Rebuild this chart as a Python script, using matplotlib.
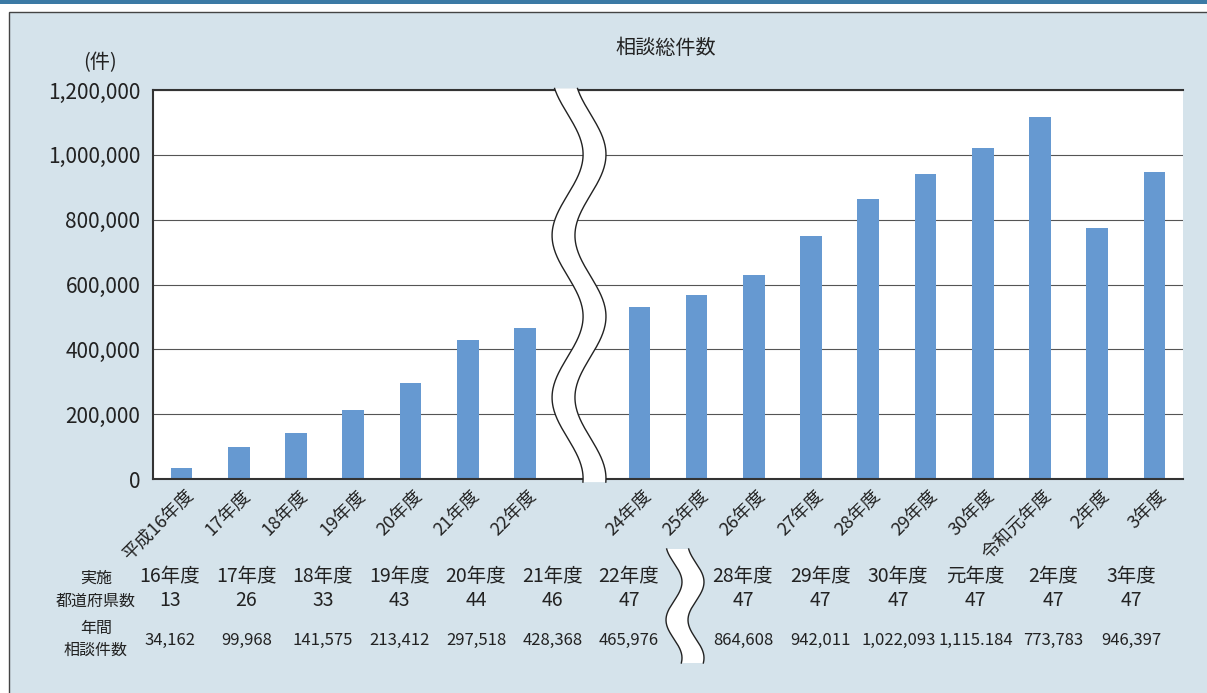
import numpy as np
import matplotlib
matplotlib.use("Agg")
import matplotlib.pyplot as plt
from matplotlib.patches import Rectangle, Polygon
from matplotlib.ticker import FuncFormatter
from matplotlib.transforms import ScaledTranslation, blended_transform_factory

plt.rcParams['font.family'] = ['Noto Sans CJK JP', 'DejaVu Sans']

# chart data
categories = ['平成16年度', '17年度', '18年度', '19年度', '20年度', '21年度', '22年度',
              '24年度', '25年度', '26年度', '27年度', '28年度', '29年度', '30年度',
              '令和元年度', '2年度', '3年度']
counts = [34162, 99968, 141575, 213412, 297518, 428368, 465976,
          531000, 567000, 630000, 749000, 864608, 942011, 1022093,
          1115184, 773783, 946397]

# table under the chart
left_years = ['16年度', '17年度', '18年度', '19年度', '20年度', '21年度', '22年度']
left_prefs = [13, 26, 33, 43, 44, 46, 47]
left_counts = ['34,162', '99,968', '141,575', '213,412', '297,518', '428,368', '465,976']
right_years = ['28年度', '29年度', '30年度', '元年度', '2年度', '3年度']
right_prefs = [47, 47, 47, 47, 47, 47]
right_counts = ['864,608', '942,011', '1,022,093', '1,115.184', '773,783', '946,397']

W, H = 1207, 693
fig = plt.figure(figsize=(W / 100, H / 100), dpi=100)


def fx(px):
    return px / W


def fy(py):
    return 1 - py / H


# panel background and top band
fig.add_artist(Rectangle((0, fy(3.5)), 1, 1, transform=fig.transFigure,
                         facecolor='#3b7aa5', edgecolor='none', zorder=-2))
fig.add_artist(Rectangle((fx(8.5), -0.05), 1.1, fy(11.5) + 0.05, transform=fig.transFigure,
                         facecolor='#d5e3eb', edgecolor='#444444', lw=1, zorder=-2))

ax = fig.add_axes([fx(153), fy(479), fx(1183) - fx(153), fy(90) - fy(479)])
ax.set_facecolor('white')

# leave an empty slot for the 23年度 break
positions = [i if i < 7 else i + 1 for i in range(len(categories))]
ax.bar(positions, counts, width=0.38, color='#6699d1', zorder=2)

ax.set_xlim(-0.5, 17.5)
ax.set_ylim(0, 1200000)
ax.set_yticks(np.arange(0, 1200001, 200000))
ax.yaxis.set_major_formatter(FuncFormatter(lambda v, p: f'{int(v):,}'))
ax.tick_params(axis='y', length=0, pad=9, labelsize=15, labelcolor='#222222')
ax.grid(axis='y', color='#555555', lw=0.8)
ax.set_axisbelow(True)
for s in ['top', 'left', 'bottom']:
    ax.spines[s].set_color('#333333')
    ax.spines[s].set_linewidth(1.5)
ax.spines['right'].set_visible(False)

ax.set_xticks(positions)
ax.set_xticklabels(categories, rotation=45, ha='right', va='center',
                   rotation_mode='anchor', fontsize=13, color='#222222')
ax.tick_params(axis='x', length=0, pad=10)
for lab in ax.get_xticklabels():
    lab.set_transform(lab.get_transform() + ScaledTranslation(0.09, 0, fig.dpi_scale_trans))

# wavy break across the plot
trans = blended_transform_factory(ax.transData, ax.transAxes)
t = np.linspace(-0.008, 1.004, 300)
mid = 6.945 + 0.271 * np.sin(2 * np.pi * (2.253 - 2.401 * t))
lft, rgt = mid - 0.2, mid + 0.2
ax.add_patch(Polygon(np.column_stack([np.r_[lft, rgt[::-1]], np.r_[t, t[::-1]]]),
                     transform=trans, facecolor='white', edgecolor='none',
                     zorder=5, clip_on=False))
ax.plot(lft, t, transform=trans, color='#222222', lw=1, zorder=6, clip_on=False)
ax.plot(rgt, t, transform=trans, color='#222222', lw=1, zorder=6, clip_on=False)

# titles
fig.text(fx(666), fy(48), '相談総件数', ha='center', va='center', fontsize=14.5, color='#222222')
fig.text(fx(100), fy(63), '(件)', ha='center', va='center', fontsize=14.5, color='#222222')

# table labels
lab_kw = dict(ha='center', va='center', fontsize=11.5, color='#222222')
fig.text(fx(96), fy(578), '実施', **lab_kw)
fig.text(fx(96), fy(601), '都道府県数', **lab_kw)
fig.text(fx(96), fy(628), '年間', **lab_kw)
fig.text(fx(96), fy(650), '相談件数', **lab_kw)

cell_kw = dict(ha='center', va='center', fontsize=14, color='#222222')
num_kw = dict(ha='center', va='center', fontsize=12, color='#222222')
cols = [170 + 76.5 * i for i in range(len(left_years))] + \
       [743 + 77.6 * j for j in range(len(right_years))]
for x, yr, pf, ct in zip(cols, left_years + right_years, left_prefs + right_prefs,
                         left_counts + right_counts):
    fig.text(fx(x), fy(577), yr, **cell_kw)
    fig.text(fx(x), fy(600), str(pf), **cell_kw)
    fig.text(fx(x), fy(640), ct, **num_kw)

# wavy break in the table
yy = np.linspace(549, 663, 200)
tl = 674 + 8 * np.sin(2 * np.pi * (yy - 563) / 76)
tr = tl + 22
fig.add_artist(Polygon(np.column_stack([fx(np.r_[tl, tr[::-1]]), fy(np.r_[yy, yy[::-1]])]),
                       transform=fig.transFigure, facecolor='white', edgecolor='none', zorder=3))
fig.add_artist(plt.Line2D(fx(tl), fy(yy), transform=fig.transFigure, color='#222222', lw=1, zorder=4))
fig.add_artist(plt.Line2D(fx(tr), fy(yy), transform=fig.transFigure, color='#222222', lw=1, zorder=4))

fig.savefig('out.png', dpi=100)
